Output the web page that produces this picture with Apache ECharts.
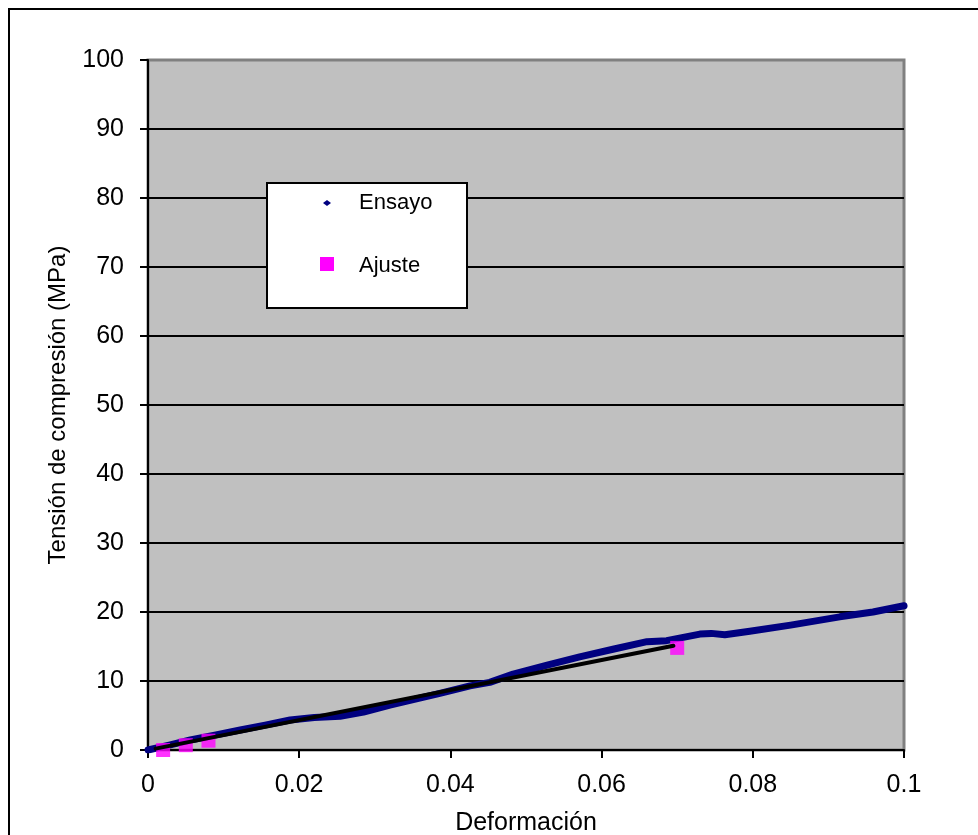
<!DOCTYPE html>
<html>
<head>
<meta charset="utf-8">
<script src="https://cdn.jsdelivr.net/npm/echarts@6/dist/echarts.min.js"></script>
<style>
html,body{margin:0;padding:0;background:#fff;}
#chart{width:978px;height:835px;}
</style>
</head>
<body>
<div id="chart"></div>
<script>
// Ensayo (test data)
var ensayoX = [0, 0.0028, 0.0056, 0.009, 0.0122, 0.0155, 0.0188, 0.022, 0.0254, 0.0285, 0.032, 0.0355, 0.0386, 0.0426, 0.0452, 0.0483, 0.0528, 0.0571, 0.0615, 0.066, 0.0686, 0.073, 0.0745, 0.0763, 0.0796, 0.085, 0.0915, 0.0959, 0.1];
var ensayoY = [0, 0.7, 1.45, 2.2, 2.9, 3.6, 4.35, 4.7, 4.9, 5.5, 6.5, 7.4, 8.2, 9.3, 9.8, 11.0, 12.3, 13.5, 14.6, 15.7, 15.85, 16.8, 16.9, 16.7, 17.2, 18.1, 19.3, 20.0, 20.9];
// Ajuste (fit points)
var ajusteX = [0.002, 0.005, 0.008, 0.07];
var ajusteY = [0, 0.7, 1.35, 14.8];
// Fit line end points
var fitX = [0.001, 0.0695];
var fitY = [0.2, 15.1];
// Ticks
var xTicks = [0, 0.02, 0.04, 0.06, 0.08, 0.1];
var yTicks = [0, 10, 20, 30, 40, 50, 60, 70, 80, 90, 100];

function zip(a, b) { return a.map(function (v, i) { return [v, b[i]]; }); }

var FONT = '"Liberation Sans", Arial, sans-serif';
var chart = echarts.init(document.getElementById('chart'), null, {renderer: 'canvas'});
var splitColors = yTicks.map(function (v, i) { return i === yTicks.length - 1 ? '#808080' : '#000000'; });

chart.setOption({
  animation: false,
  backgroundColor: '#ffffff',
  grid: {
    left: 148, top: 60, width: 756, height: 690,
    containLabel: false, outerBoundsMode: 'none',
    show: true, backgroundColor: '#c0c0c0', borderColor: '#808080', borderWidth: 3
  },
  xAxis: {
    type: 'value', min: 0, max: 0.1, interval: 0.02,
    name: 'Deformación', nameLocation: 'middle', nameGap: 61,
    nameTextStyle: {fontFamily: FONT, fontSize: 25, color: '#000'},
    axisLine: {show: true, onZero: false, lineStyle: {color: '#000', width: 2}},
    axisTick: {show: true, inside: false, length: 8, lineStyle: {color: '#000', width: 2}},
    axisLabel: {margin: 23, fontFamily: FONT, fontSize: 25, color: '#000',
      formatter: function (v) { return String(+v.toFixed(2)); }},
    splitLine: {show: false}
  },
  yAxis: {
    type: 'value', min: 0, max: 100, interval: 10,
    name: 'Tensión de compresión (MPa)', nameLocation: 'middle', nameGap: 78,
    nameTextStyle: {fontFamily: FONT, fontSize: 24, color: '#000'},
    axisLine: {show: true, lineStyle: {color: '#000', width: 2}},
    axisTick: {show: true, inside: false, length: 8, lineStyle: {color: '#000', width: 2}},
    axisLabel: {margin: 24, fontFamily: FONT, fontSize: 25, color: '#000'},
    splitLine: {show: true, lineStyle: {color: splitColors, width: 2}}
  },
  series: [
    {
      name: 'Ensayo', type: 'line', data: zip(ensayoX, ensayoY),
      showSymbol: false, symbol: 'none', smooth: false,
      lineStyle: {color: '#000080', width: 7, join: 'round', cap: 'round'},
      itemStyle: {color: '#000080'}, z: 2
    },
    {
      name: 'Ajuste', type: 'scatter', data: zip(ajusteX, ajusteY),
      symbol: 'rect', symbolSize: 14,
      itemStyle: {color: '#ff00ff'}, z: 3
    },
    {
      name: 'Ajuste lineal', type: 'line', data: zip(fitX, fitY),
      showSymbol: false, symbol: 'none',
      lineStyle: {color: '#000000', width: 4, cap: 'round'}, z: 4
    }
  ],
  graphic: [
    {type: 'rect', shape: {x: 9, y: 9, width: 1000, height: 900},
     style: {fill: 'none', stroke: '#000', lineWidth: 2}, z: 0, silent: true},
    {type: 'rect', shape: {x: 267, y: 183, width: 200, height: 125},
     style: {fill: '#fff', stroke: '#000', lineWidth: 2}, z: 100},
    {type: 'polygon', shape: {points: [[323, 203], [327, 200], [331, 203], [327, 206]]},
     style: {fill: '#000080'}, z: 101},
    {type: 'text', x: 359, y: 203, style: {text: 'Ensayo', fontFamily: FONT, fontSize: 22,
     fill: '#000', textVerticalAlign: 'middle', verticalAlign: 'middle'}, z: 101},
    {type: 'rect', shape: {x: 320, y: 257, width: 14, height: 14},
     style: {fill: '#ff00ff'}, z: 101},
    {type: 'text', x: 359, y: 266, style: {text: 'Ajuste', fontFamily: FONT, fontSize: 22,
     fill: '#000', textVerticalAlign: 'middle', verticalAlign: 'middle'}, z: 101}
  ]
});
</script>
</body>
</html>
